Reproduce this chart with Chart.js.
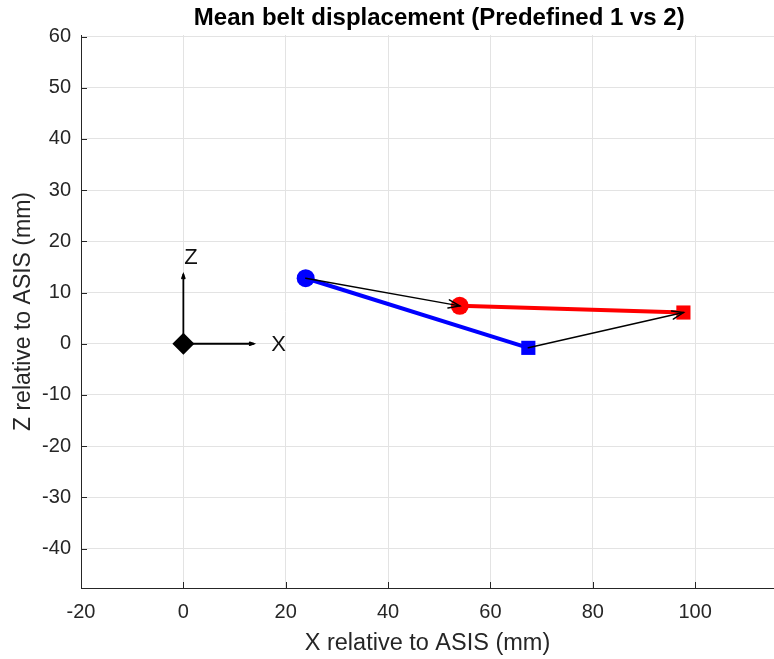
<!DOCTYPE html>
<html>
<head>
<meta charset="utf-8">
<script src="https://cdn.jsdelivr.net/npm/chart.js@4"></script>
<style>
  html, body { margin: 0; padding: 0; background: #fff; }
  #wrap { width: 774px; height: 659px; }
</style>
</head>
<body>
<div id="wrap"><canvas id="beltChart" width="774" height="659"></canvas></div>
<script>
// --- data (mm relative to ASIS) ---
const predefined1X = [23.9, 67.4];   // circle = start, square = end
const predefined1Z = [12.8, -0.8];
const predefined2X = [54.0, 97.7];
const predefined2Z = [7.4, 6.1];

// reference frame glyph at the origin
const originX = [0];
const originZ = [0];
const frameArrowTipX = [0, 13.7];
const frameArrowTipZ = [13.5, 0];
const frameLabels = ['Z', 'X'];
const frameLabelX = [1.5, 18.6];
const frameLabelZ = [16.7, -0.2];

const xTicksStep = 20;
const zTicksStep = 10;
// the original axes run to x=120 but the figure is cropped, title is centred on the full axes
const xFullMax = 120;

const TITLE = 'Mean belt displacement (Predefined 1 vs 2)';
const FONT = '"Liberation Sans", Arial, Helvetica, sans-serif';
const AXIS_COLOR = '#262626';

function toPoints(xs, zs) {
    return xs.map((x, i) => ({ x: x, y: zs[i] }));
}

function drawArrow(ctx, x0, y0, x1, y1, head, width) {
    const ang = Math.atan2(y1 - y0, x1 - x0);
    ctx.save();
    ctx.strokeStyle = '#000';
    ctx.lineWidth = width;
    ctx.lineCap = 'round';
    ctx.beginPath();
    ctx.moveTo(x0, y0);
    ctx.lineTo(x1, y1);
    ctx.stroke();
    ctx.beginPath();
    ctx.moveTo(x1 - head * Math.cos(ang - 0.35), y1 - head * Math.sin(ang - 0.35));
    ctx.lineTo(x1, y1);
    ctx.lineTo(x1 - head * Math.cos(ang + 0.35), y1 - head * Math.sin(ang + 0.35));
    ctx.stroke();
    ctx.restore();
}

// displacement arrows + origin frame + inward ticks + title (matlab style)
const overlayPlugin = {
    id: 'overlay',
    afterDatasetsDraw(chart) {
        const ctx = chart.ctx;
        const xs = chart.scales.x, ys = chart.scales.y;
        const area = chart.chartArea;

        // frame arrows
        frameArrowTipX.forEach((tx, i) => {
            drawArrow(ctx,
                xs.getPixelForValue(originX[0]), ys.getPixelForValue(originZ[0]),
                xs.getPixelForValue(tx), ys.getPixelForValue(frameArrowTipZ[i]), 4, 1.8);
        });
        ctx.save();
        ctx.fillStyle = '#111';
        ctx.font = '22px ' + FONT;
        ctx.textAlign = 'center';
        ctx.textBaseline = 'middle';
        frameLabels.forEach((t, i) => {
            ctx.fillText(t, xs.getPixelForValue(frameLabelX[i]), ys.getPixelForValue(frameLabelZ[i]));
        });
        ctx.restore();

        // displacement arrows predefined 1 -> predefined 2
        predefined1X.forEach((x, i) => {
            drawArrow(ctx,
                xs.getPixelForValue(x), ys.getPixelForValue(predefined1Z[i]),
                xs.getPixelForValue(predefined2X[i]), ys.getPixelForValue(predefined2Z[i]), 12, 1.5);
        });

        // inward ticks
        ctx.save();
        ctx.strokeStyle = AXIS_COLOR;
        ctx.lineWidth = 1;
        ctx.beginPath();
        xs.ticks.forEach(t => {
            const px = Math.round(xs.getPixelForValue(t.value)) + 0.5;
            ctx.moveTo(px, area.bottom);
            ctx.lineTo(px, area.bottom - 6);
        });
        ys.ticks.forEach(t => {
            const py = Math.round(ys.getPixelForValue(t.value)) + 0.5;
            ctx.moveTo(area.left, py);
            ctx.lineTo(area.left + 6, py);
        });
        ctx.stroke();

        // title
        ctx.fillStyle = '#000';
        ctx.font = 'bold 24px ' + FONT;
        ctx.textAlign = 'center';
        ctx.textBaseline = 'middle';
        ctx.fillText(TITLE, xs.getPixelForValue((xs.min + xFullMax) / 2), 18);
        ctx.restore();
    }
};

new Chart(document.getElementById('beltChart'), {
    type: 'scatter',
    data: {
        datasets: [
            {
                label: 'Predefined 1',
                data: toPoints(predefined1X, predefined1Z),
                showLine: true,
                borderColor: '#0000ff',
                backgroundColor: '#0000ff',
                borderWidth: 4,
                pointStyle: ['circle', 'rect'],
                pointRadius: [9, 10],
                pointBorderWidth: 0
            },
            {
                label: 'Predefined 2',
                data: toPoints(predefined2X, predefined2Z),
                showLine: true,
                borderColor: '#ff0000',
                backgroundColor: '#ff0000',
                borderWidth: 4,
                pointStyle: ['circle', 'rect'],
                pointRadius: [9, 10],
                pointBorderWidth: 0
            },
            {
                label: 'Origin',
                data: toPoints(originX, originZ),
                backgroundColor: '#000',
                borderColor: '#000',
                pointStyle: 'rectRot',
                pointRadius: 11,
                pointBorderWidth: 0
            }
        ]
    },
    options: {
        responsive: false,
        animation: false,
        layout: { autoPadding: false, padding: { top: 35, right: 0, bottom: 0, left: 0 } },
        plugins: {
            legend: { display: false },
            tooltip: { enabled: false },
            title: { display: false }
        },
        scales: {
            x: {
                type: 'linear',
                min: -20,
                max: 115.4,
                grid: { color: '#e3e3e3', drawTicks: false },
                border: { color: AXIS_COLOR, width: 1 },
                ticks: {
                    stepSize: xTicksStep,
                    includeBounds: false,
                    color: AXIS_COLOR,
                    padding: 12,
                    maxRotation: 0,
                    font: { family: FONT, size: 20 }
                },
                title: {
                    display: true,
                    text: 'X relative to ASIS (mm)',
                    color: AXIS_COLOR,
                    font: { family: FONT, size: 23.5 },
                    padding: { top: 4, bottom: 1 }
                },
                afterFit(scale) {
                    scale.height = 71;
                    scale.paddingLeft = 0;
                    scale.paddingRight = 0;
                }
            },
            y: {
                type: 'linear',
                min: -47.7,
                max: 60.3,
                grid: { color: '#e3e3e3', drawTicks: false },
                border: { color: AXIS_COLOR, width: 1 },
                ticks: {
                    stepSize: zTicksStep,
                    includeBounds: false,
                    color: AXIS_COLOR,
                    padding: 10,
                    font: { family: FONT, size: 20 }
                },
                title: {
                    display: true,
                    text: 'Z relative to ASIS (mm)',
                    color: AXIS_COLOR,
                    font: { family: FONT, size: 23 },
                    padding: { top: 10, bottom: 4 }
                },
                afterFit(scale) { scale.width = 81; }
            }
        }
    },
    plugins: [overlayPlugin]
});
</script>
</body>
</html>
